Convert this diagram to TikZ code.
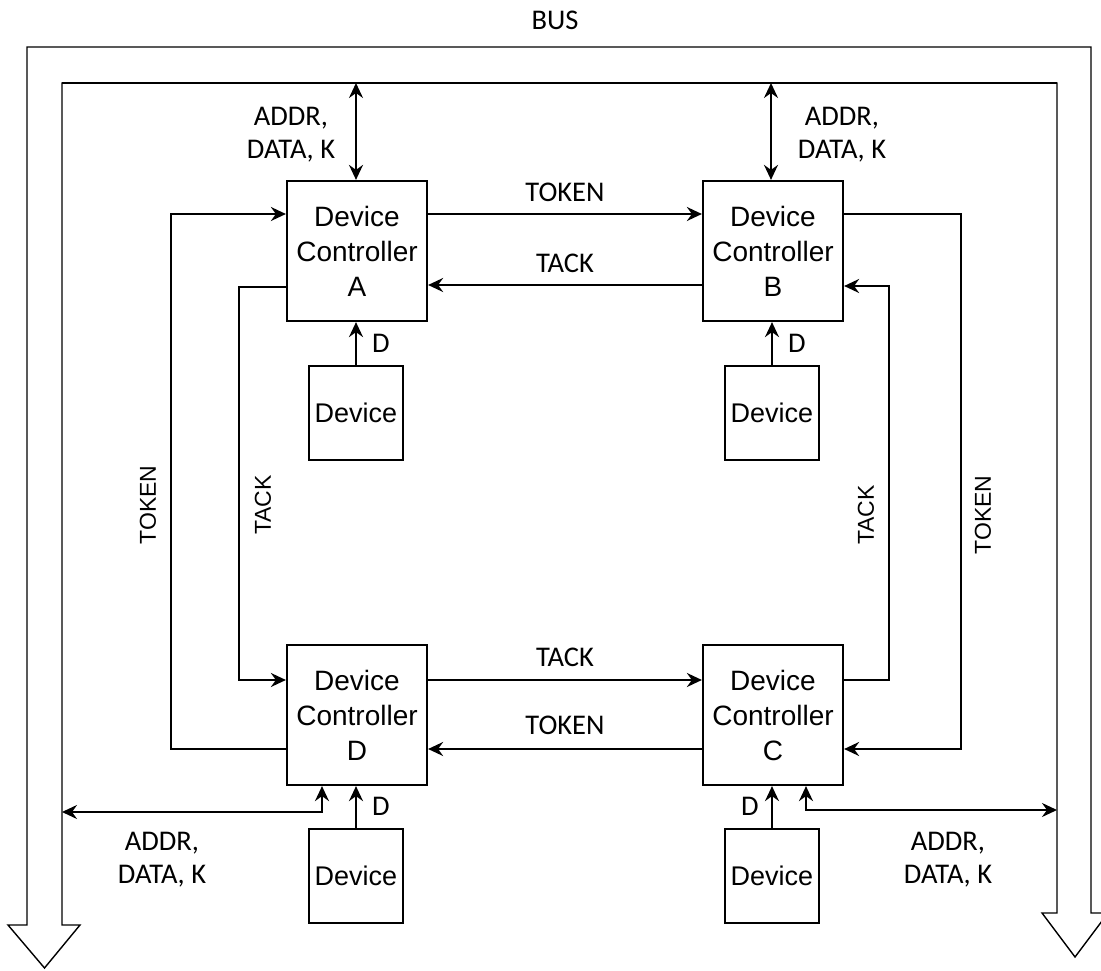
\documentclass[tikz,border=0pt]{standalone}
\usepackage{fontspec}
\setmainfont{Liberation Sans}
\newfontfamily\lblfont{Carlito}
\usetikzlibrary{arrows.meta}
\begin{document}
\begin{tikzpicture}[x=1pt,y=-1pt,
 ctrl/.style={draw, line width=2.2pt, minimum width=140pt, minimum height=140pt, inner sep=0pt, align=center, font=\fontsize{28}{35}\selectfont},
 dev/.style={draw, line width=2.2pt, minimum width=94pt, minimum height=94pt, inner sep=0pt, font=\fontsize{27}{30}\selectfont},
 wire/.style={line width=2.2pt, -{Stealth[length=15pt,width=14pt,inset=5pt]}},
 bidir/.style={line width=2.2pt, {Stealth[length=15pt,width=14pt,inset=5pt]}-{Stealth[length=15pt,width=14pt,inset=5pt]}},
 lbl/.style={font=\lblfont\fontsize{28.5}{33}\selectfont, align=center, inner sep=0pt},
 vlbl/.style={font=\fontsize{23}{28}\selectfont, rotate=90, inner sep=0pt},
 busline/.style={line width=1.4pt}]
\useasboundingbox (0,0) rectangle (1101,971);
\clip (0,0) rectangle (1101,971);
% bus outline
\draw[busline, line join=miter] (62,925) -- (80,925) -- (44.5,968) -- (8,925) -- (27,925) -- (27,47) -- (1091,47) -- (1091,913) -- (1108,913) -- (1075,957) -- (1042,913) -- (1057,913) -- (1057,83) -- (62,83) -- cycle;
\draw[line width=2.2pt] (62,83) -- (1057,83);
\node[lbl] (bus) at (555,20) {BUS};
\coordinate (busTop) at (0,83);
\coordinate (busL) at (62,812);
\coordinate (busR) at (1057,810);
% controllers
\node[ctrl] (A) at (357,251) {Device\\Controller\\A};
\node[ctrl] (B) at (773,251) {Device\\Controller\\B};
\node[ctrl] (D) at (357,715) {Device\\Controller\\D};
\node[ctrl] (C) at (773,715) {Device\\Controller\\C};
% devices
\node[dev] (dA) at (356,413) {Device};
\node[dev] (dB) at (772,413) {Device};
\node[dev] (dD) at (356,876) {Device};
\node[dev] (dC) at (772,876) {Device};
% device links
\draw[wire] (dA.north) -- (dA.north |- A.south);
\draw[wire] (dB.north) -- (dB.north |- B.south);
\draw[wire] (dD.north) -- (dD.north |- D.south);
\draw[wire] (dC.north) -- (dC.north |- C.south);
\node[lbl] (lDA) at (381,343) {D};
\node[lbl] (lDB) at (797,343) {D};
\node[lbl] (lDD) at (381,806) {D};
\node[lbl] (lDC) at (750,806) {D};
% bus links
\draw[bidir] ([xshift=-1pt]A.north |- busTop) -- ([xshift=-1pt]A.north);
\draw[bidir] ([xshift=-2pt]B.north |- busTop) -- ([xshift=-2pt]B.north);
\draw[bidir] (busL) -| ([xshift=-35pt]D.south);
\draw[bidir] (busR) -| ([xshift=33pt]C.south);
\node[lbl] (abA) at (291,135) {ADDR,\\DATA, K};
\node[lbl] (abB) at (842,135) {ADDR,\\DATA, K};
\node[lbl] (abD) at (162,860) {ADDR,\\DATA, K};
\node[lbl] (abC) at (948,860) {ADDR,\\DATA, K};
% ring
\draw[wire] ([yshift=37pt]A.east) -- ([yshift=37pt]B.west);
\draw[wire] ([yshift=-34pt]B.west) -- ([yshift=-34pt]A.east);
\draw[wire] ([yshift=35pt]D.east) -- ([yshift=35pt]C.west);
\draw[wire] ([yshift=-34pt]C.west) -- ([yshift=-34pt]D.east);
\node[lbl] (t1) at (565,192) {TOKEN};
\node[lbl] (t2) at (565,263) {TACK};
\node[lbl] (t3) at (565,657) {TACK};
\node[lbl] (t4) at (565,725) {TOKEN};
\draw[wire] ([yshift=-34pt]D.west) -- ++(-115,0) |- ([yshift=37pt]A.west);
\draw[wire] ([yshift=-36pt]A.west) -- ++(-47,0) |- ([yshift=35pt]D.west);
\draw[wire] ([yshift=35pt]C.east) -- ++(45,0) |- ([yshift=-35pt]B.east);
\draw[wire] ([yshift=37pt]B.east) -- ++(117,0) |- ([yshift=-34pt]C.east);
\node[vlbl] (v1) at (148,505) {TOKEN};
\node[vlbl] (v2) at (263,505) {TACK};
\node[vlbl] (v3) at (866,515) {TACK};
\node[vlbl] (v4) at (983,515) {TOKEN};
\end{tikzpicture}
\end{document}
